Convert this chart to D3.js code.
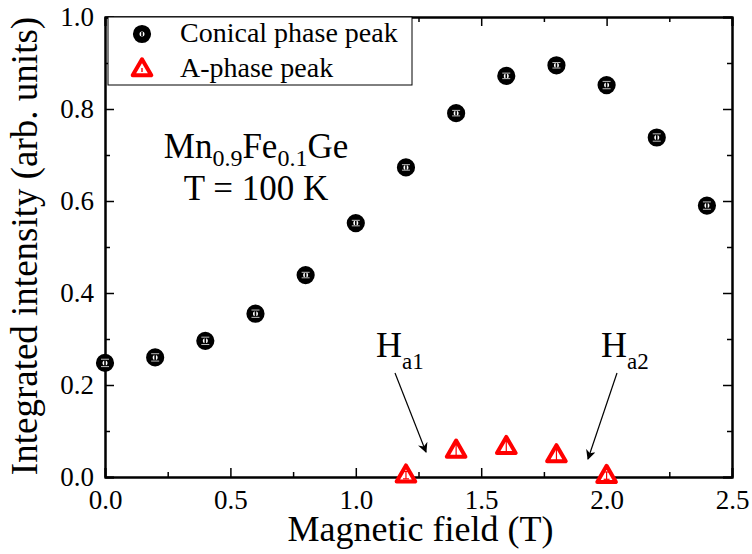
<!DOCTYPE html>
<html>
<head>
<meta charset="utf-8">
<script src="https://cdn.jsdelivr.net/npm/d3@7"></script>
<style>
  body { margin: 0; background: #fff; }
</style>
</head>
<body>
<svg id="chart" width="752" height="554"></svg>
<script>
// field values (T)
const conicalField = [0.0, 0.2, 0.4, 0.6, 0.8, 1.0, 1.2, 1.4, 1.6, 1.8, 2.0, 2.2, 2.4];
const conicalIntensity = [0.248, 0.260, 0.296, 0.355, 0.439, 0.552, 0.673, 0.791, 0.872, 0.895, 0.852, 0.738, 0.590];
const conicalError = [0.008, 0.008, 0.008, 0.008, 0.006, 0.006, 0.006, 0.006, 0.006, 0.006, 0.008, 0.008, 0.008];

const aField = [1.2, 1.4, 1.6, 1.8, 2.0];
const aIntensity = [0.004, 0.058, 0.066, 0.048, 0.003];
const aError = [0.008, 0.012, 0.012, 0.012, 0.008];

const xMajor = [0, 0.5, 1.0, 1.5, 2.0, 2.5];
const xMinor = [0.25, 0.75, 1.25, 1.75, 2.25];
const yMajor = [0, 0.2, 0.4, 0.6, 0.8, 1.0];
const yMinor = [0.1, 0.3, 0.5, 0.7, 0.9];

const legendLabels = ["Conical phase peak", "A-phase peak"];

const SERIF = '"Liberation Serif", "Times New Roman", Times, serif';

let svg = d3.select("#chart");
let margin = {top: 17, right: 20, bottom: 77, left: 105};
let width = +svg.attr("width") - margin.left - margin.right;
let height = +svg.attr("height") - margin.top - margin.bottom;

let x = d3.scaleLinear().domain([0, 2.5]).range([0, width]);
let y = d3.scaleLinear().domain([0, 1]).range([height, 0]);

let g = svg.append("g")
    .attr("transform", `translate(${margin.left},${margin.top})`);

let fmt = d3.format(".1f");

function styleAxis(sel) {
    sel.select(".domain").attr("stroke", "#000").attr("stroke-width", 2);
    sel.selectAll(".tick line").attr("stroke", "#000").attr("stroke-width", 1.5);
    sel.selectAll(".tick text")
        .style("font-family", SERIF)
        .style("font-size", "27px")
        .attr("fill", "#000");
}

// bottom axis
g.append("g")
    .attr("transform", `translate(0,${height})`)
    .call(d3.axisBottom(x).tickValues(xMajor).tickFormat(fmt).tickSize(-9).tickPadding(13))
    .call(styleAxis);
g.append("g")
    .attr("transform", `translate(0,${height})`)
    .call(d3.axisBottom(x).tickValues(xMinor).tickFormat("").tickSize(-5).tickSizeOuter(0))
    .call(styleAxis);

// top axis
g.append("g")
    .call(d3.axisTop(x).tickValues(xMajor).tickFormat("").tickSize(-9))
    .call(styleAxis);
g.append("g")
    .call(d3.axisTop(x).tickValues(xMinor).tickFormat("").tickSize(-5).tickSizeOuter(0))
    .call(styleAxis);

// left axis
g.append("g")
    .call(d3.axisLeft(y).tickValues(yMajor).tickFormat(fmt).tickSize(-9).tickPadding(11))
    .call(styleAxis);
g.append("g")
    .call(d3.axisLeft(y).tickValues(yMinor).tickFormat("").tickSize(-5).tickSizeOuter(0))
    .call(styleAxis);

// right axis
g.append("g")
    .attr("transform", `translate(${width},0)`)
    .call(d3.axisRight(y).tickValues(yMajor).tickFormat("").tickSize(-9))
    .call(styleAxis);
g.append("g")
    .attr("transform", `translate(${width},0)`)
    .call(d3.axisRight(y).tickValues(yMinor).tickFormat("").tickSize(-5).tickSizeOuter(0))
    .call(styleAxis);

// axis titles
g.append("text")
    .attr("x", width / 2 + 2)
    .attr("y", height + 64)
    .attr("text-anchor", "middle")
    .style("font-family", SERIF)
    .style("font-size", "36px")
    .text("Magnetic field (T)");

g.append("text")
    .attr("transform", "rotate(-90)")
    .attr("x", -height / 2 + 1)
    .attr("y", -margin.left + 37)
    .attr("text-anchor", "middle")
    .style("font-family", SERIF)
    .style("font-size", "37px")
    .text("Integrated intensity (arb. units)");

// data
let conical = conicalField.map((f, i) => ({x: f, y: conicalIntensity[i], e: conicalError[i]}));
let aphase = aField.map((f, i) => ({x: f, y: aIntensity[i], e: aError[i]}));

let tri = d3.symbol().type(d3.symbolTriangle).size(150);

// A-phase triangles
let ag = g.append("g").selectAll("g").data(aphase).join("g")
    .attr("transform", d => `translate(${x(d.x)},${y(d.y)})`);
ag.append("path")
    .attr("d", tri)
    .attr("transform", "translate(0,1)")
    .attr("fill", "#fff")
    .attr("stroke", "#ff0000")
    .attr("stroke-width", 4)
    .attr("stroke-linejoin", "round");
ag.append("line")
    .attr("y1", d => y(d.y + d.e) - y(d.y))
    .attr("y2", d => y(d.y - d.e) - y(d.y))
    .attr("stroke", "#ff0000").attr("stroke-width", 1.2);
ag.selectAll("line.cap").data(d => [d.y + d.e, d.y - d.e].map(v => ({v: v, c: d.y}))).join("line")
    .attr("class", "cap")
    .attr("x1", -3).attr("x2", 3)
    .attr("y1", d => y(d.v) - y(d.c))
    .attr("y2", d => y(d.v) - y(d.c))
    .attr("stroke", "#ff0000").attr("stroke-width", 1.2);

// conical circles
let cg = g.append("g").selectAll("g").data(conical).join("g")
    .attr("transform", d => `translate(${x(d.x)},${y(d.y)})`);
cg.append("circle")
    .attr("r", 5.8)
    .attr("fill", "#fff")
    .attr("stroke", "#000")
    .attr("stroke-width", 6.6);
cg.append("line")
    .attr("y1", d => y(d.y + d.e) - y(d.y))
    .attr("y2", d => y(d.y - d.e) - y(d.y))
    .attr("stroke", "#000").attr("stroke-width", 1.6);
cg.selectAll("line.cap").data(d => [d.y + d.e, d.y - d.e].map(v => ({v: v, c: d.y}))).join("line")
    .attr("class", "cap")
    .attr("x1", -4).attr("x2", 4)
    .attr("y1", d => y(d.v) - y(d.c))
    .attr("y2", d => y(d.v) - y(d.c))
    .attr("stroke", "#bbb").attr("stroke-width", 1);

// legend
let lg = svg.append("g");
lg.append("rect")
    .attr("x", 108).attr("y", 17)
    .attr("width", 304).attr("height", 68)
    .attr("fill", "#fff").attr("stroke", "#000").attr("stroke-width", 1);
lg.append("circle")
    .attr("cx", 142).attr("cy", 34).attr("r", 5.8)
    .attr("fill", "#fff").attr("stroke", "#000").attr("stroke-width", 6.6);
lg.append("rect")
    .attr("x", 141.2).attr("y", 32).attr("width", 1.6).attr("height", 4).attr("fill", "#000");
lg.append("path")
    .attr("d", tri)
    .attr("transform", "translate(142,70)")
    .attr("fill", "#fff").attr("stroke", "#ff0000").attr("stroke-width", 4)
    .attr("stroke-linejoin", "round");
lg.append("rect")
    .attr("x", 141.3).attr("y", 68).attr("width", 1.4).attr("height", 4).attr("fill", "#ff0000");
lg.selectAll("text.leg").data(legendLabels).join("text")
    .attr("class", "leg")
    .attr("x", 180)
    .attr("y", (d, i) => 42 + i * 35)
    .style("font-family", SERIF)
    .style("font-size", "28px")
    .text(d => d);

// sample annotation
let ann = svg.append("text")
    .attr("x", 256).attr("y", 158)
    .attr("text-anchor", "middle")
    .style("font-family", SERIF)
    .style("font-size", "35px");
ann.append("tspan").text("Mn");
ann.append("tspan").attr("dy", 8).style("font-size", "24px").text("0.9");
ann.append("tspan").attr("dy", -8).text("Fe");
ann.append("tspan").attr("dy", 8).style("font-size", "24px").text("0.1");
ann.append("tspan").attr("dy", -8).text("Ge");

svg.append("text")
    .attr("x", 256).attr("y", 200)
    .attr("text-anchor", "middle")
    .style("font-family", SERIF)
    .style("font-size", "35px")
    .text("T = 100 K");

// Ha labels and arrows
svg.append("defs").append("marker")
    .attr("id", "arrow")
    .attr("viewBox", "0 0 10 10")
    .attr("refX", 9).attr("refY", 5)
    .attr("markerWidth", 10).attr("markerHeight", 10)
    .attr("markerUnits", "userSpaceOnUse")
    .attr("orient", "auto")
    .append("path")
    .attr("d", "M0,0 L10,5 L0,10 L3,5 Z")
    .attr("fill", "#000");

function haLabel(xPos, yPos, sub) {
    let t = svg.append("text")
        .attr("x", xPos).attr("y", yPos)
        .style("font-family", SERIF)
        .style("font-size", "36px");
    t.append("tspan").text("H");
    t.append("tspan").attr("dy", 12).style("font-size", "23px").text(sub);
}
haLabel(376, 357, "a1");
haLabel(601, 357, "a2");

svg.append("line")
    .attr("x1", 395).attr("y1", 373).attr("x2", 426).attr("y2", 452)
    .attr("stroke", "#000").attr("stroke-width", 1.2)
    .attr("marker-end", "url(#arrow)");
svg.append("line")
    .attr("x1", 617).attr("y1", 373).attr("x2", 588).attr("y2", 459)
    .attr("stroke", "#000").attr("stroke-width", 1.2)
    .attr("marker-end", "url(#arrow)");
</script>
</body>
</html>
